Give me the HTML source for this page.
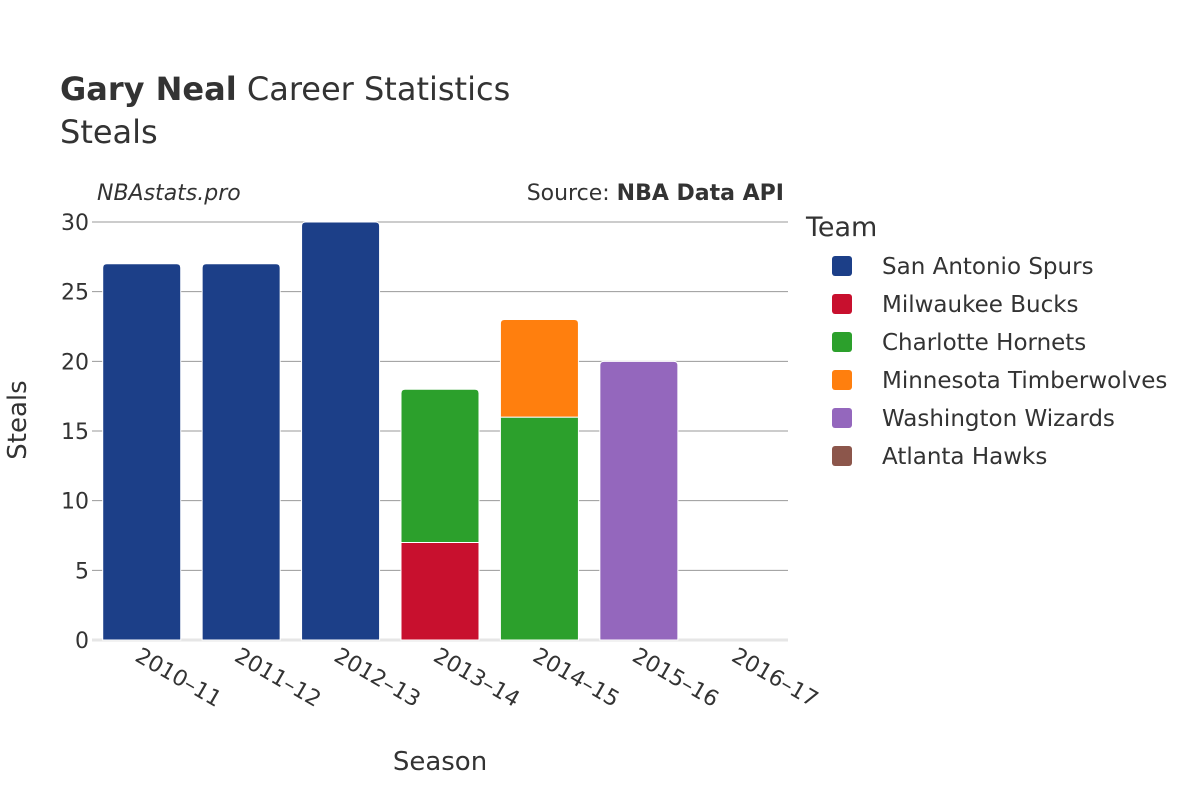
<!DOCTYPE html>
<html><head><meta charset="utf-8"><style>
body{margin:0;background:#fff;}
text{font-family:"DejaVu Sans","Liberation Sans",sans-serif;fill:#333;}
</style></head><body>
<svg id="chart" width="1200" height="800">
<text x="60" y="100" font-size="32"><tspan font-weight="bold">Gary Neal</tspan> Career Statistics</text>
<text x="60" y="143" font-size="32">Steals</text>
<text x="97" y="200" font-size="22" font-style="italic">NBAstats.pro</text>
<text x="784" y="200" font-size="22" text-anchor="end">Source: <tspan font-weight="bold">NBA Data API</tspan></text>
<g id="grid"></g><g id="bars"></g><g id="xlabels"></g>
<text x="440" y="770" font-size="26" text-anchor="middle">Season</text>
<text transform="translate(26,420) rotate(-90)" font-size="26" text-anchor="middle">Steals</text>
<text x="806" y="236" font-size="27">Team</text>
<g id="legend"></g>
</svg>
<script>
const seasons=["2010–11","2011–12","2012–13","2013–14","2014–15","2015–16","2016–17"];
const teams=["San Antonio Spurs","Milwaukee Bucks","Charlotte Hornets","Minnesota Timberwolves","Washington Wizards","Atlanta Hawks"];
const colors=["#1c3f88","#c8102e","#2ca02c","#ff7f0e","#9467bd","#8c564b"];
const spurs=[27,27,30,0,0,0,0];
const bucks=[0,0,0,7,0,0,0];
const hornets=[0,0,0,11,16,0,0];
const wolves=[0,0,0,0,7,0,0];
const wizards=[0,0,0,0,0,20,0];
const hawks=[0,0,0,0,0,0,0];
const yTicks=[0,5,10,15,20,25,30];
const series=[spurs,bucks,hornets,wolves,wizards,hawks];
const NS="http://www.w3.org/2000/svg";
const x0=92,x1=788,y0=640,ymax=30,yTop=222;
const step=(x1-x0)/seasons.length, bw=78;
const ys=v=>y0-(y0-yTop)*v/ymax;
const xc=i=>x0+step*(i+0.5);
function mk(t,a,p){const e=document.createElementNS(NS,t);for(const k in a)e.setAttribute(k,a[k]);p.appendChild(e);return e;}
const grid=document.getElementById('grid');
yTicks.forEach(v=>{
 const l=mk('line',{x1:x0,x2:x1,y1:ys(v),y2:ys(v),stroke:v===0?'#e6e6e6':'#999','stroke-width':v===0?3:1},grid);
 
 
 const t=mk('text',{x:x0-3,y:ys(v)+8,'font-size':22,'text-anchor':'end'},grid);
 t.textContent=v;
 
 
});
const bars=document.getElementById('bars');
seasons.forEach((s,i)=>{
 let base=0;let top=-1;
 series.forEach((sr,k)=>{if(sr[i]>0)top=k;});
 series.forEach((sr,k)=>{
  const v=sr[i]; if(v<=0)return;
  const ya=ys(base+v), yb=ys(base), xl=xc(i)-bw/2, r=k===top?4:0;
  const d=`M${xl},${yb}L${xl},${ya+r}Q${xl},${ya} ${xl+r},${ya}L${xl+bw-r},${ya}Q${xl+bw},${ya} ${xl+bw},${ya+r}L${xl+bw},${yb}Z`;
  const p=mk('path',{d:d,fill:colors[k],stroke:'#fff','stroke-width':1},bars);
  
  
  base+=v;
 });
 const t=mk('text',{transform:`translate(${xc(i)-8},${660}) rotate(30)`,'font-size':22},document.getElementById('xlabels'));
 t.textContent=s;
 
 
});
const lg=document.getElementById('legend');
teams.forEach((tm,k)=>{
 const y=266+38*k;
 const g=mk('g',{},lg);
 
 
 mk('rect',{x:832,y:y-10,width:20,height:20,rx:3,fill:colors[k]},g);
 const t=mk('text',{x:882,y:y+8,'font-size':23},g);
 t.textContent=tm;
});
</script>
</body></html>
